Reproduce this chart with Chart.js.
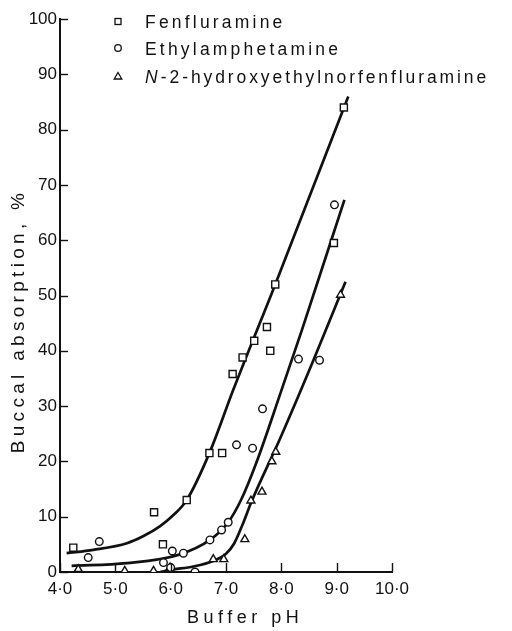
<!DOCTYPE html>
<html><head><meta charset="utf-8">
<script src="https://cdn.jsdelivr.net/npm/chart.js@4.4.1/dist/chart.umd.min.js"></script>
<style>html,body{margin:0;padding:0;background:#fff;}#wrap{width:512px;height:631px;}</style>
</head><body><div id="wrap"><canvas id="c" width="512" height="631"></canvas></div>
<script>
// ---- data ----
const seriesNames = ['Fenfluramine', 'Ethylamphetamine', 'N-2-hydroxyethylnorfenfluramine'];
const xTicks = [4, 5, 6, 7, 8, 9, 10];
const yTicks = [0, 10, 20, 30, 40, 50, 60, 70, 80, 90, 100];
const xTitle = 'Buffer pH';
const yTitle = 'Buccal absorption, %';

// Fenfluramine (squares)
const fenX = [4.24, 5.70, 5.86, 6.29, 6.70, 6.93, 7.12, 7.30, 7.51, 7.74, 7.80, 7.89, 8.95, 9.13];
const fenY = [4.4, 10.8, 5.0, 13.0, 21.5, 21.5, 35.8, 38.8, 41.8, 44.3, 40.0, 52.0, 59.5, 84.0];
// Ethylamphetamine (circles)
const ethX = [4.51, 4.71, 5.87, 6.00, 6.03, 6.23, 6.44, 6.71, 6.92, 7.04, 7.19, 7.48, 7.66, 8.31, 8.69, 8.96];
const ethY = [2.6, 5.5, 1.7, 0.8, 3.8, 3.4, 0.0, 5.8, 7.6, 9.0, 23.0, 22.4, 29.5, 38.5, 38.3, 66.4];
// N-2-hydroxyethylnorfenfluramine (triangles)
const hnfX = [4.33, 5.17, 5.69, 5.99, 6.77, 6.96, 7.34, 7.45, 7.65, 7.83, 7.90, 9.07];
const hnfY = [0.5, 0.2, 0.2, 0.8, 2.3, 2.3, 5.9, 12.9, 14.5, 20.0, 21.7, 50.1];

// fitted curves (traced)
const fenCurveX = [4.12, 4.60, 5.21, 5.51, 5.81, 6.05, 6.29, 6.70, 7.13, 7.89, 9.21];
const fenCurveY = [3.4, 4.0, 5.2, 6.5, 8.3, 10.3, 13.0, 21.5, 32.9, 52.0, 86.0];
const ethCurveX = [4.21, 5.21, 6.14, 6.71, 7.04, 7.28, 7.55, 7.98, 8.37, 9.14];
const ethCurveY = [1.1, 1.6, 3.1, 5.8, 9.0, 13.2, 19.8, 32.2, 43.7, 67.3];
const hnfCurveX = [5.81, 6.00, 6.41, 6.77, 7.00, 7.15, 7.30, 7.46, 7.98, 8.58, 9.16];
const hnfCurveY = [0.0, 0.4, 1.0, 2.0, 3.3, 5.2, 8.6, 12.7, 24.2, 38.3, 52.5];

const pts = (xs, ys) => xs.map((x, i) => ({x, y: ys[i]}));
const INK = '#111';
const FONT = "'Liberation Sans', Arial, sans-serif";

const pointDs = (label, xs, ys, style, r) => ({
  label, data: pts(xs, ys), showLine: false, pointStyle: style, pointRadius: r,
  pointBackgroundColor: '#fff', pointBorderColor: INK, pointBorderWidth: 1.4, order: 0
});
const curveDs = (xs, ys) => ({
  data: pts(xs, ys), showLine: true, pointRadius: 0, borderColor: INK, borderWidth: 2.7,
  cubicInterpolationMode: 'monotone', fill: false, order: 1
});

const decor = {
  id: 'decor',
  afterDraw(chart) {
    const ctx = chart.ctx, xs = chart.scales.x, ys = chart.scales.y;
    ctx.save();
    ctx.strokeStyle = INK; ctx.lineWidth = 1.4;
    yTicks.forEach(v => { const p = Math.round(ys.getPixelForValue(v)) + 0.5;
      ctx.beginPath(); ctx.moveTo(xs.left, p); ctx.lineTo(xs.left + 8, p); ctx.stroke(); });
    xTicks.forEach(v => { const p = Math.round(xs.getPixelForValue(v)) + 0.5;
      ctx.beginPath(); ctx.moveTo(p, ys.bottom); ctx.lineTo(p, ys.bottom - 9); ctx.stroke(); });
    // legend
    ctx.fillStyle = INK; ctx.lineWidth = 1.3;
    const lx = 118, base = [28, 55, 83];
    ctx.strokeRect(lx - 3, base[0] - 9.5, 6, 6);
    ctx.beginPath(); ctx.arc(lx, base[1] - 7, 3.3, 0, Math.PI * 2); ctx.stroke();
    ctx.beginPath(); ctx.moveTo(lx - 3.8, base[2] - 4); ctx.lineTo(lx + 3.8, base[2] - 4); ctx.lineTo(lx, base[2] - 10.5); ctx.closePath(); ctx.stroke();
    ctx.textBaseline = 'alphabetic'; ctx.textAlign = 'left';
    ctx.letterSpacing = '3.2px';
    ctx.font = '17.5px ' + FONT;
    ctx.fillText(seriesNames[0], 145, base[0]);
    ctx.fillText(seriesNames[1], 145, base[1]);
    ctx.font = 'italic 17.5px ' + FONT;
    ctx.fillText('N', 145, base[2]);
    const nw = ctx.measureText('N').width;
    ctx.font = '17.5px ' + FONT; ctx.letterSpacing = '2.9px';
    ctx.fillText(seriesNames[2].slice(1), 145 + nw, base[2]);
    // x title
    ctx.font = '18px ' + FONT; ctx.letterSpacing = '4.5px';
    ctx.fillText(xTitle, 187, 623);
    // y title
    ctx.translate(24, 321); ctx.rotate(-Math.PI / 2);
    ctx.font = '19px ' + FONT; ctx.letterSpacing = '4.3px'; ctx.textAlign = 'center';
    ctx.fillText(yTitle, 0, 0);
    ctx.restore();
  }
};

new Chart(document.getElementById('c'), {
  type: 'scatter',
  data: { datasets: [
    pointDs(seriesNames[0], fenX, fenY, 'rect', 5),
    pointDs(seriesNames[1], ethX, ethY, 'circle', 3.8),
    pointDs(seriesNames[2], hnfX, hnfY, 'triangle', 4.6),
    curveDs(fenCurveX, fenCurveY),
    curveDs(ethCurveX, ethCurveY),
    curveDs(hnfCurveX, hnfCurveY)
  ]},
  options: {
    responsive: false, animation: false, devicePixelRatio: 1,
    layout: { padding: { left: 0, right: 120, top: 19, bottom: 0 } },
    plugins: { legend: { display: false }, tooltip: { enabled: false } },
    scales: {
      x: { type: 'linear', min: 4, max: 10,
        afterBuildTicks: s => { s.ticks = xTicks.map(v => ({value: v})); },
        afterFit: s => { s.height = 59; },
        grid: { display: false, drawTicks: false, tickLength: 0 },
        border: { display: true, color: INK, width: 2 },
        ticks: { color: INK, font: { family: FONT, size: 17 }, padding: 7, maxRotation: 0,
          callback: v => v.toFixed(1).replace('.', '\u00b7') } },
      y: { type: 'linear', min: 0, max: 100,
        afterBuildTicks: s => { s.ticks = yTicks.map(v => ({value: v})); },
        afterFit: s => { s.width = 60; },
        grid: { display: false, drawTicks: false, tickLength: 0 },
        border: { display: true, color: INK, width: 2 },
        ticks: { color: INK, font: { family: FONT, size: 17 }, padding: 3,
          callback: v => String(v) } }
    }
  },
  plugins: [decor]
});
</script></body></html>
